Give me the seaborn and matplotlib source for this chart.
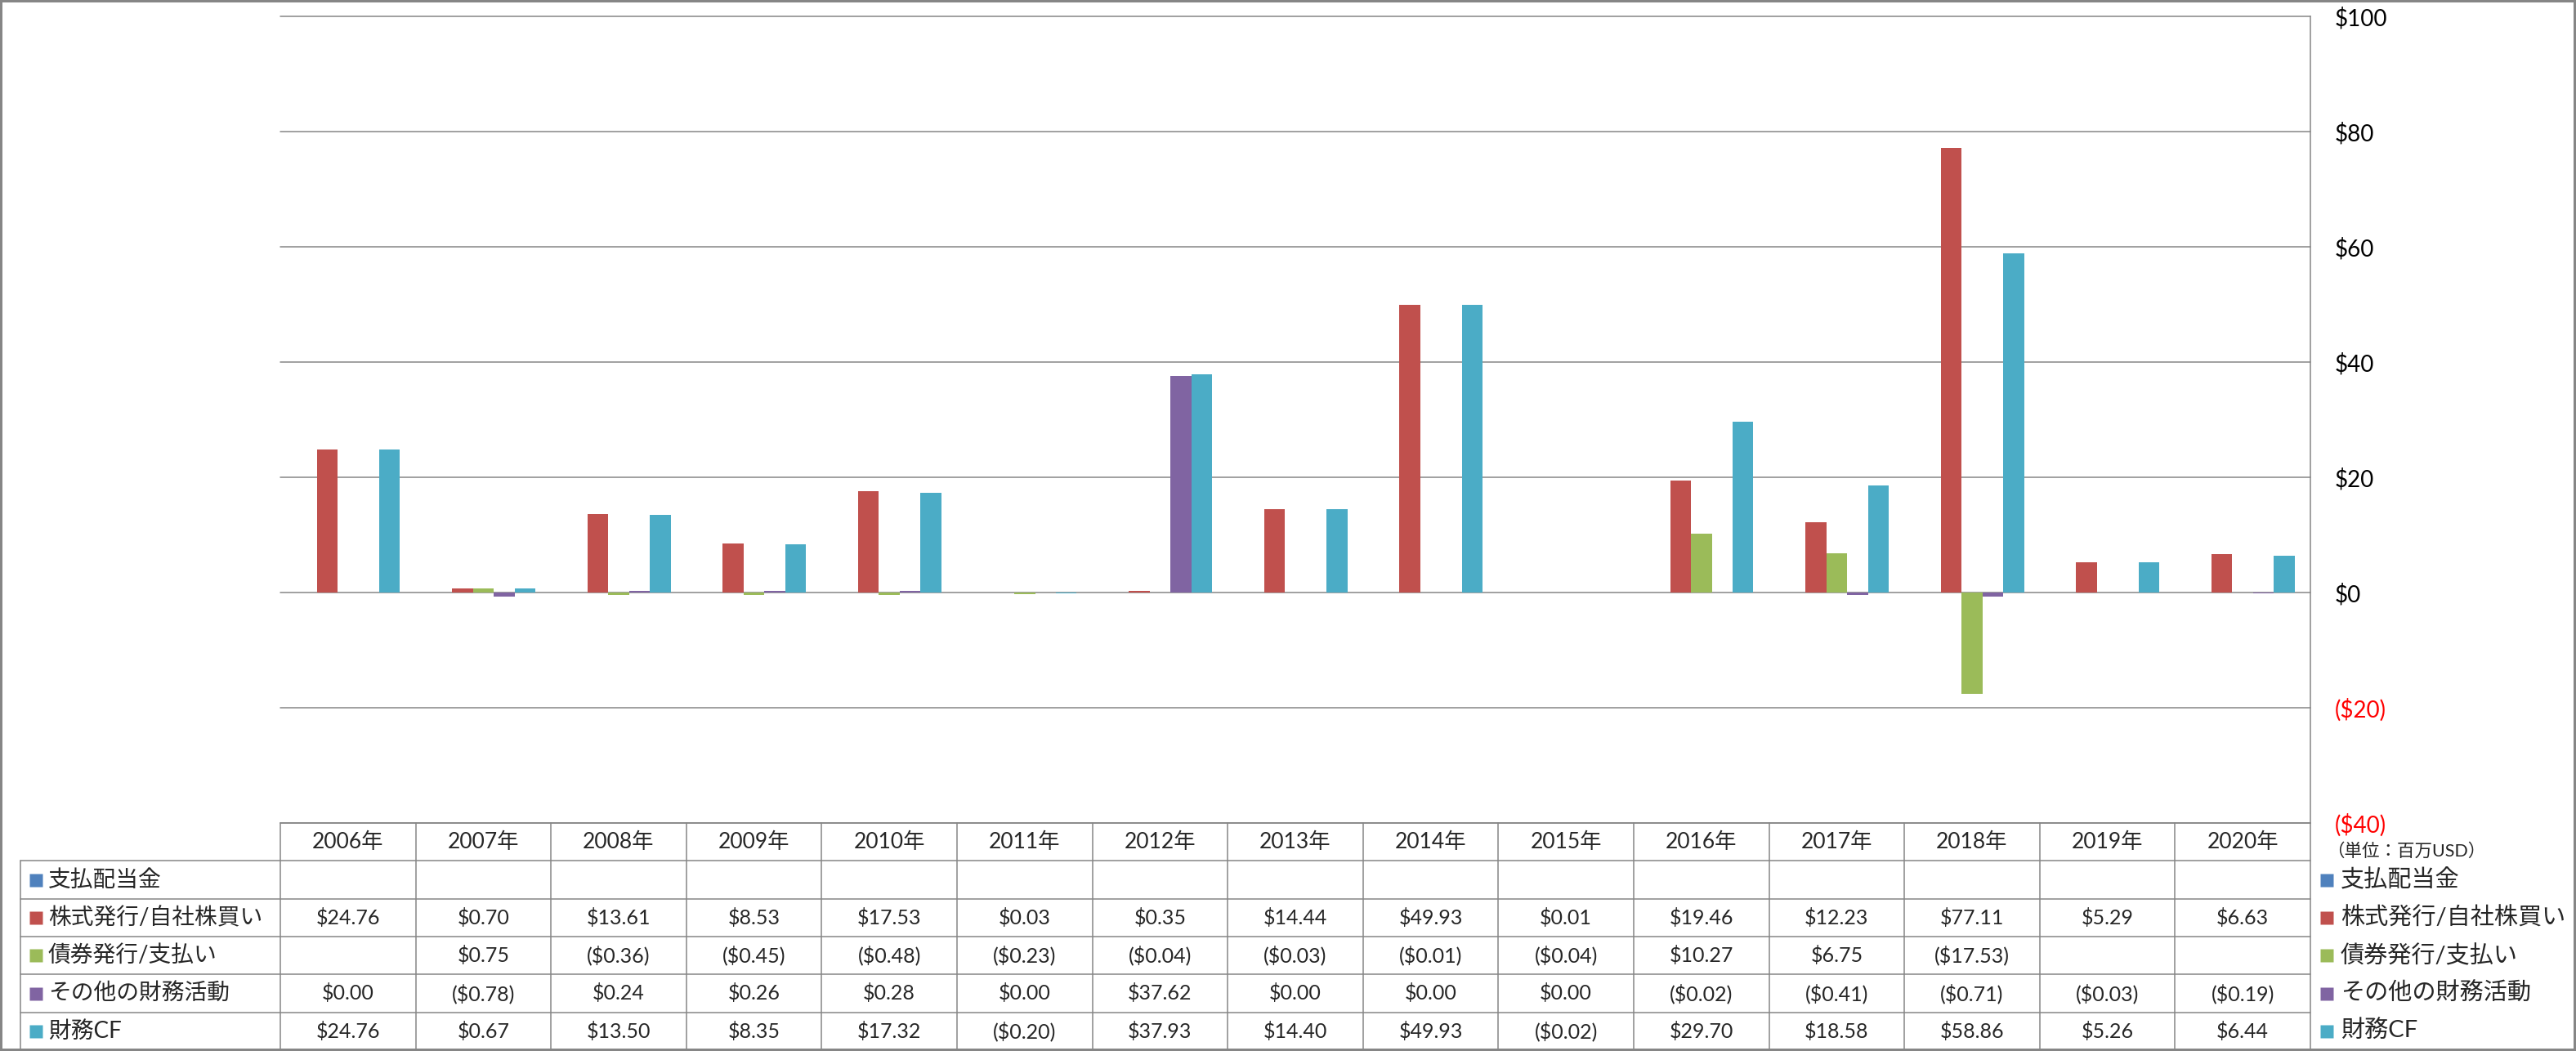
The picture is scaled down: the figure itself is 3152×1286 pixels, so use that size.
import numpy as np
import pandas as pd
import seaborn as sns
import matplotlib.pyplot as plt
from matplotlib.patches import Rectangle

# データ（単位：百万USD）
years = ["2006年", "2007年", "2008年", "2009年", "2010年", "2011年", "2012年", "2013年",
         "2014年", "2015年", "2016年", "2017年", "2018年", "2019年", "2020年"]
series = ["支払配当金", "株式発行/自社株買い", "債券発行/支払い", "その他の財務活動", "財務CF"]

dividends = [np.nan] * 15
equity = [24.76, 0.70, 13.61, 8.53, 17.53, 0.03, 0.35, 14.44, 49.93, 0.01, 19.46, 12.23, 77.11, 5.29, 6.63]
debt = [np.nan, 0.75, -0.36, -0.45, -0.48, -0.23, -0.04, -0.03, -0.01, -0.04, 10.27, 6.75, -17.53, np.nan, np.nan]
other = [0.00, -0.78, 0.24, 0.26, 0.28, 0.00, 37.62, 0.00, 0.00, 0.00, -0.02, -0.41, -0.71, -0.03, -0.19]
fin_cf = [24.76, 0.67, 13.50, 8.35, 17.32, -0.20, 37.93, 14.40, 49.93, -0.02, 29.70, 18.58, 58.86, 5.26, 6.44]

colors = ["#4F81BD", "#C0504D", "#9BBB59", "#8064A2", "#4BACC6"]
y_ticks = [-40, -20, 0, 20, 40, 60, 80, 100]

values = [dividends, equity, debt, other, fin_cf]
rows = []
for s, vals in zip(series, values):
    for y, v in zip(years, vals):
        rows.append({"year": y, "series": s, "value": v})
df = pd.DataFrame(rows)


def fmt(v):
    if v < 0:
        return f"(${-v:.2f})"
    return f"${v:.2f}"


def fmt_tick(v):
    if v < 0:
        return f"(${-v:d})"
    return f"${v:d}"


sns.set_style("white")
plt.rcParams["font.family"] = ["Lato", "Noto Sans CJK JP"]

W, H = 3152, 1286
GRID = "#868686"
fig = plt.figure(figsize=(W / 100, H / 100), dpi=100)
fig.patch.set_facecolor("white")

# グラフ領域（ピクセル）
ax_l, ax_r, ax_t, ax_b = 343, 2827, 20, 1007
ax = fig.add_axes([ax_l / W, 1 - ax_b / H, (ax_r - ax_l) / W, (ax_b - ax_t) / H])

sns.barplot(data=df, x="year", y="value", hue="series", order=years, hue_order=series,
            palette=colors, saturation=1, width=5 / 6.5, gap=0, errorbar=None,
            legend=False, linewidth=0, ax=ax)

ax.set_xlim(-0.5, 14.5)
ax.set_ylim(-40, 100)
ax.set_yticks(y_ticks)
ax.yaxis.tick_right()
ax.set_yticklabels([fmt_tick(v) for v in y_ticks])
for lbl, v in zip(ax.get_yticklabels(), y_ticks):
    lbl.set_color("#FF0000" if v < 0 else "black")
ax.tick_params(axis="y", length=0, pad=21.6, labelsize=20)
ax.set_xticks([])
ax.set_xlabel("")
ax.set_ylabel("")
ax.grid(axis="y", color=GRID, lw=1.1)
ax.set_axisbelow(True)
for gl in ax.get_ygridlines():
    gl.set_clip_on(False)
for sp in ["top", "left", "bottom"]:
    ax.spines[sp].set_visible(False)
ax.spines["right"].set_color(GRID)
ax.spines["right"].set_linewidth(1.1)

# データテーブル
colw = (ax_r - ax_l) / 15
tab_l, tab_b = 25, 1285
xlab = -0.5 - (ax_l - tab_l) / colw
tax = fig.add_axes([tab_l / W, 1 - tab_b / H, (ax_r - tab_l) / W, (tab_b - ax_b) / H])
tax.set_xlim(xlab, 14.5)
tax.set_ylim(0, 6)
tax.axis("off")

lkw = dict(color=GRID, lw=1.1, clip_on=False)
tax.plot([-0.5, 14.5], [6, 6], **lkw)
for yy in [5, 4, 3, 2, 1, 0]:
    tax.plot([xlab, 14.5], [yy, yy], **lkw)
tax.plot([xlab, xlab], [0, 5], **lkw)
for i in range(16):
    tax.plot([i - 0.5, i - 0.5], [0, 6], **lkw)

for i, y in enumerate(years):
    tax.text(i, 5.5, y, ha="center", va="center", fontsize=19)

for r, (s, vals) in enumerate(zip(series, values)):
    yc = 4.5 - r
    for i, v in enumerate(vals):
        if not np.isnan(v):
            tax.text(i, yc, fmt(v), ha="center", va="center", fontsize=18)
    # 行ラベル
    tax.plot([xlab + (43.5 - tab_l) / colw], [yc], marker="s", ms=11, color=colors[r],
             mec="none", clip_on=False)
    tax.text(xlab + (59 - tab_l) / colw, yc, s, ha="left", va="center", fontsize=20)
    # 右側の凡例
    tax.plot([14.5 + (2847 - ax_r) / colw], [yc], marker="s", ms=11, color=colors[r],
             mec="none", clip_on=False)
    tax.text(14.5 + (2864 - ax_r) / colw, yc, s, ha="left", va="center", fontsize=21,
             clip_on=False)

fig.text(2847 / W, 1 - 1042 / H, "（単位：百万USD）", ha="left", va="center", fontsize=15.5)

fig.add_artist(Rectangle((0, 0), 1, 1, transform=fig.transFigure, fill=False,
                         edgecolor=GRID, lw=4.3))

fig.savefig("out.png", dpi=100, facecolor="white")
